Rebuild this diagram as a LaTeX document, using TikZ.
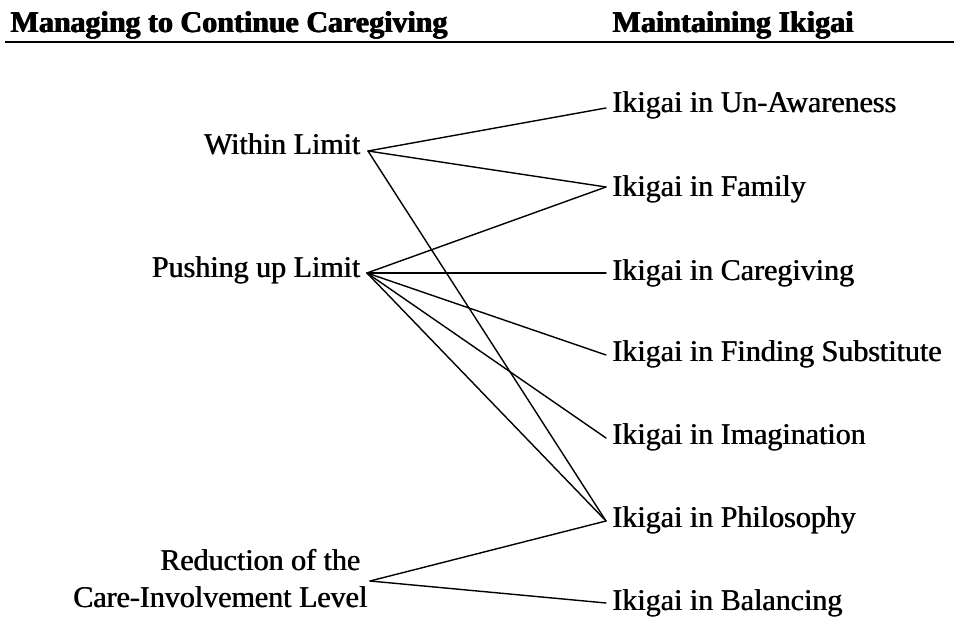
\documentclass[tikz,border=0pt]{standalone}
\usepackage{fontspec}
\setmainfont{Liberation Serif}
% overprinted text for the heavy printed look
\newcommand\heavy[2][0.7pt]{\rlap{#2}\kern#1#2}
\newcommand\heavyhdr[1]{\rlap{#1}\kern0.5pt\rlap{#1}\kern0.5pt#1}
\begin{document}
\begin{tikzpicture}[x=1pt,y=-1pt,
  hdr/.style={inner sep=0pt,anchor=base west,font=\bfseries\fontsize{30}{36}\selectfont},
  lbl/.style={inner sep=0pt,font=\fontsize{30}{38}\selectfont},
  leftlbl/.style={lbl,anchor=base east},
  rightlbl/.style={lbl,anchor=base west},
  link/.style={line width=1.4pt,line cap=round}]
\useasboundingbox (0,0) rectangle (954,617);

% column headings and rule
\node[hdr] (hL) at (10,33) {\heavyhdr{Managing to Continue Caregiving}};
\node[hdr] (hR) at (612,33) {\heavyhdr{Maintaining Ikigai}};
\coordinate (ruleA) at (5,42);
\coordinate (ruleB) at (954,42);
\draw[line width=2pt] (ruleA) -- (ruleB);

% strategies for continuing care
\node[leftlbl] (wl) at (361,155) {\heavy{Within Limit}};
\node[leftlbl] (pl) at (361,278) {\heavy{Pushing up Limit}};
\node[lbl,anchor=base east,align=right] (rd) at (368,608) {\heavy{Reduction of the}\hspace*{7pt}\\\heavy{Care-Involvement Level}};

\coordinate (wl-c) at ([shift={(7,-4)}]wl.base east);
\coordinate (pl-c) at ([shift={(6,-5)}]pl.base east);
\coordinate (rd-c) at ([shift={(2,-27)}]rd.base east);

% forms of ikigai
\node[rightlbl] (i1) at (612,113) {\heavy{Ikigai in Un-Awareness}};
\node[rightlbl] (i2) at (612,197) {\heavy{Ikigai in Family}};
\node[rightlbl] (i3) at (612,281) {\heavy{Ikigai in Caregiving}};
\node[rightlbl] (i4) at (612,362) {\heavy{Ikigai in Finding Substitute}};
\node[rightlbl] (i5) at (612,445) {\heavy{Ikigai in Imagination}};
\node[rightlbl] (i6) at (612,528) {\heavy{Ikigai in Philosophy}};
\node[rightlbl] (i7) at (612,610) {\heavy{Ikigai in Balancing}};

\foreach \n/\dy in {i1/5,i2/10,i3/8,i4/7,i5/7,i6/7,i7/7}
  \coordinate (\n-c) at ([shift={(-6,-\dy)}]\n.base west);

% links
\draw[link] (wl-c) -- (i1-c);
\draw[link] (wl-c) -- (i2-c);
\draw[link] (wl-c) -- (i6-c);
\draw[link] (pl-c) -- (i2-c);
\draw[link] (pl-c) -- (i3-c);
\draw[link] (pl-c) -- (i4-c);
\draw[link] (pl-c) -- (i5-c);
\draw[link] (pl-c) -- (i6-c);
\draw[link] (rd-c) -- (i6-c);
\draw[link] (rd-c) -- (i7-c);
\end{tikzpicture}
\end{document}
